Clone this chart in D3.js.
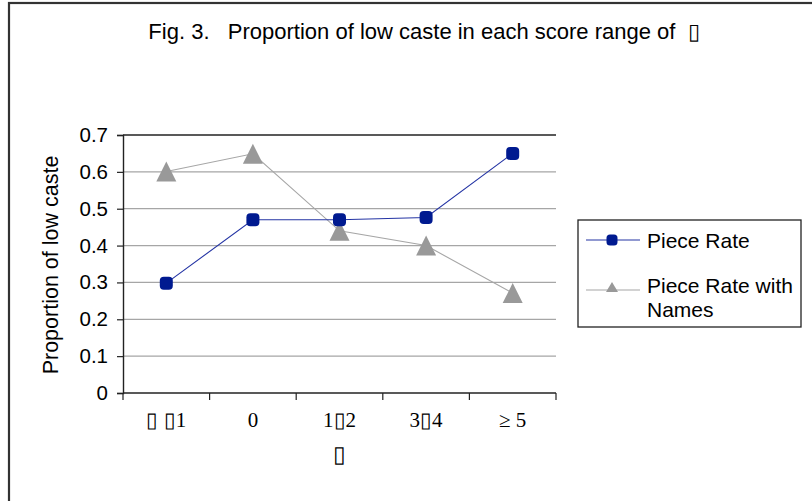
<!DOCTYPE html>
<html>
<head>
<meta charset="utf-8">
<script src="https://cdn.jsdelivr.net/npm/d3@7"></script>
<style>
  body { margin: 0; background: #fff; }
  svg { display: block; }
</style>
</head>
<body>
<svg id="chart" width="812" height="501"></svg>
<script>
const categories = ["▯ ▯1", "0", "1▯2", "3▯4", "≥ 5"];
const pieceRate = [0.298, 0.470, 0.470, 0.476, 0.650];
const pieceRateNames = [0.601, 0.649, 0.440, 0.400, 0.271];
const yTicks = [0, 0.1, 0.2, 0.3, 0.4, 0.5, 0.6, 0.7];
const seriesNames = ["Piece Rate", "Piece Rate with", "Names"];
const titleText = "Fig. 3.   Proportion of low caste in each score range of  ▯";
const yTitle = "Proportion of low caste";
const xTitle = "▯";

const SANS = "Liberation Sans, Arial, sans-serif";
const SERIF = "Liberation Serif, Times New Roman, serif";
const svg = d3.select("#chart");

// outer frame
svg.append("rect").attr("x", 9).attr("y", 3).attr("width", 830).attr("height", 520)
  .attr("fill", "none").attr("stroke", "#333").attr("stroke-width", 2.2);

const m = {left: 123, right: 556, top: 135, bottom: 393};
const x = d3.scaleBand().domain(categories).range([m.left, m.right]);
const y = d3.scaleLinear().domain([0, 0.7]).range([m.bottom, m.top]);

// gridlines
svg.append("g").selectAll("line").data(yTicks.filter(d => d > 0)).join("line")
  .attr("x1", m.left).attr("x2", m.right)
  .attr("y1", d => y(d)).attr("y2", d => y(d))
  .attr("stroke", d => d === 0.7 ? "#222" : "#a6a6a6")
  .attr("stroke-width", d => d === 0.7 ? 1.6 : 1.3);

// y axis
const yAxis = svg.append("g").attr("transform", `translate(${m.left},0)`)
  .call(d3.axisLeft(y).tickValues(yTicks).tickSize(6).tickPadding(9)
    .tickFormat(d => d === 0 ? "0" : d3.format(".1f")(d)));
yAxis.select(".domain").attr("stroke", "#222").attr("stroke-width", 1.4);
yAxis.selectAll(".tick line").attr("stroke", "#222").attr("stroke-width", 1.2);
yAxis.selectAll("text").attr("font-family", SANS)
  .attr("font-size", 20.5).attr("fill", "#000");

// x axis
const xg = svg.append("g").attr("transform", `translate(0,${m.bottom})`);
xg.append("line").attr("x1", m.left).attr("x2", m.right).attr("y1", 0).attr("y2", 0)
  .attr("stroke", "#222").attr("stroke-width", 1.4);
const bounds = categories.map(c => x(c)).concat([m.right]);
xg.selectAll("line.tk").data(bounds).join("line").attr("class", "tk")
  .attr("x1", d => d).attr("x2", d => d).attr("y1", 0).attr("y2", 7)
  .attr("stroke", "#222").attr("stroke-width", 1.2);
xg.selectAll("text").data(categories).join("text")
  .attr("x", d => x(d) + x.bandwidth() / 2).attr("y", 34)
  .attr("text-anchor", "middle")
  .attr("font-family", SERIF)
  .attr("font-size", 21).attr("fill", "#000").text(d => d);

// axis titles
svg.append("text").attr("transform", `translate(58,265) rotate(-90)`)
  .attr("text-anchor", "middle").attr("font-family", SANS)
  .attr("font-size", 21.5).text(yTitle);
svg.append("text").attr("x", 339).attr("y", 462).attr("text-anchor", "middle")
  .attr("font-family", SERIF).attr("font-size", 23).text(xTitle);

// title
svg.append("text").attr("x", 424).attr("y", 39).attr("text-anchor", "middle")
  .attr("font-family", SANS).attr("font-size", 22)
  .style("white-space", "pre").text(titleText);

const cx = (d, i) => x(categories[i]) + x.bandwidth() / 2;
const line = d3.line().x((d, i) => cx(d, i)).y(d => y(d));

// bbox-centred triangle symbol (width w, height h)
const triType = (w, h) => ({ draw(ctx) {
  ctx.moveTo(0, -h / 2); ctx.lineTo(w / 2, h / 2); ctx.lineTo(-w / 2, h / 2); ctx.closePath();
}});

// series 2 (gray triangles)
svg.append("path").datum(pieceRateNames).attr("d", line)
  .attr("fill", "none").attr("stroke", "#a6a6a6").attr("stroke-width", 1.1);
// series 1 (blue)
svg.append("path").datum(pieceRate).attr("d", line)
  .attr("fill", "none").attr("stroke", "#2434a4").attr("stroke-width", 1.1);

svg.append("g").selectAll("path").data(pieceRateNames).join("path")
  .attr("d", d3.symbol().type(triType(20, 20)))
  .attr("transform", (d, i) => `translate(${cx(d, i)},${y(d)})`)
  .attr("fill", "#999");
svg.append("g").selectAll("rect").data(pieceRate).join("rect")
  .attr("x", (d, i) => cx(d, i) - 6.5).attr("y", d => y(d) - 6.5)
  .attr("width", 13).attr("height", 13).attr("rx", 4)
  .attr("fill", "#001a90");

// legend
const lg = svg.append("g");
lg.append("rect").attr("x", 578).attr("y", 220).attr("width", 223).attr("height", 107)
  .attr("fill", "#fff").attr("stroke", "#222").attr("stroke-width", 1.3);
lg.append("line").attr("x1", 586).attr("x2", 640).attr("y1", 240).attr("y2", 240)
  .attr("stroke", "#2434a4").attr("stroke-width", 1.1);
lg.append("rect").attr("x", 606.5).attr("y", 234.5).attr("width", 11).attr("height", 11).attr("rx", 3.5)
  .attr("fill", "#001a90");
lg.append("text").attr("x", 647).attr("y", 247.5).attr("font-family", SANS)
  .attr("font-size", 21).text(seriesNames[0]);
lg.append("line").attr("x1", 586).attr("x2", 640).attr("y1", 290).attr("y2", 290)
  .attr("stroke", "#a6a6a6").attr("stroke-width", 1.1);
lg.append("path").attr("d", d3.symbol().type(triType(12, 10)))
  .attr("transform", "translate(612,287)").attr("fill", "#999");
lg.append("text").attr("x", 647).attr("y", 293).attr("font-family", SANS)
  .attr("font-size", 21).text(seriesNames[1]);
lg.append("text").attr("x", 647).attr("y", 317).attr("font-family", SANS)
  .attr("font-size", 21).text(seriesNames[2]);
</script>
</body>
</html>
